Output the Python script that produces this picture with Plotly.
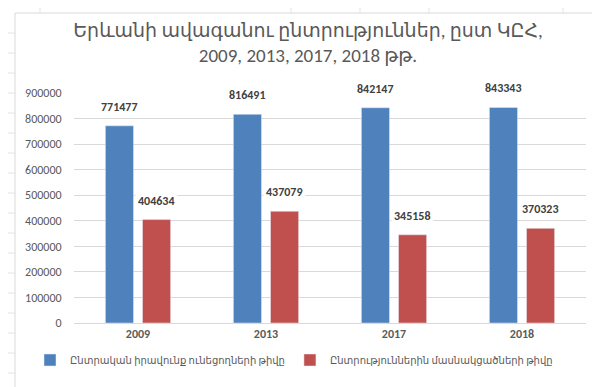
import plotly.graph_objects as go

years = ["2009", "2013", "2017", "2018"]
registered = [771477, 816491, 842147, 843343]
participated = [404634, 437079, 345158, 370323]
series_names = ["Ընտրական իրավունք ունեցողների թիվը", "Ընտրություններին մասնակցածների թիվը"]
title_text = "Երևանի ավագանու ընտրություններ, ըստ ԿԸՀ,<br>2009, 2013, 2017, 2018 թթ."

BLUE = "#4F81BD"
RED = "#C0504D"
FONT = "Calibri, Carlito, 'Liberation Sans', 'DejaVu Sans', sans-serif"

W, H = 600, 387
L, R, T, B = 66, 22, 85, 72
PW, PH = W - L - R, H - T - B


def px(x):
    return (x - L) / PW


def py(y):
    return (H - B - y) / PH


fig = go.Figure()
fig.add_trace(go.Bar(x=years, y=registered, name=series_names[0], marker_color=BLUE))
fig.add_trace(go.Bar(x=years, y=participated, name=series_names[1], marker_color=RED))

for vals, shift in ((registered, -18.5), (participated, 18.5)):
    for i, v in enumerate(vals):
        fig.add_annotation(x=i, y=v, xshift=shift, yshift=9, text=f"<b>{v}</b>",
                           showarrow=False, yanchor="bottom", bgcolor="white",
                           font=dict(family=FONT, size=12, color="#404040"),
                           borderpad=2)

# spreadsheet cell lines around the chart area
cell = dict(color="#e3e3e3", width=1)
for cx in (32, 283, 352, 421, 555):
    fig.add_shape(type="line", xref="paper", yref="paper", x0=px(cx), x1=px(cx),
                  y0=py(0), y1=py(5), line=cell, layer="below")
    fig.add_shape(type="line", xref="paper", yref="paper", x0=px(cx), x1=px(cx),
                  y0=py(380), y1=py(387), line=cell, layer="below")
for ry in range(25, 380, 20):
    fig.add_shape(type="line", xref="paper", yref="paper", x0=px(0), x1=px(7),
                  y0=py(ry), y1=py(ry), line=cell, layer="below")
    fig.add_shape(type="line", xref="paper", yref="paper", x0=px(592), x1=px(600),
                  y0=py(ry), y1=py(ry), line=cell, layer="below")

# chart area border
fig.add_shape(type="rect", xref="paper", yref="paper",
              x0=px(7), x1=px(592), y0=py(380), y1=py(5),
              line=dict(color="#d9d9d9", width=1), fillcolor="rgba(0,0,0,0)", layer="below")

fig.update_layout(
    width=W, height=H,
    margin=dict(l=L, r=R, t=T, b=B),
    paper_bgcolor="white", plot_bgcolor="white",
    barmode="group", bargap=0.42, bargroupgap=0.243,
    title=dict(text=title_text, x=0.5, xanchor="center", y=0.925, yanchor="top",
               font=dict(family=FONT, size=19, color="#595959")),
    font=dict(family=FONT, size=12, color="#595959"),
    showlegend=True,
    legend=dict(orientation="h", x=px(22), xanchor="left", y=py(352), yanchor="middle",
                font=dict(family=FONT, size=10, color="#595959"),
                itemwidth=30, tracegroupgap=0),
    xaxis=dict(type="category", range=[-0.5, 3.5], showgrid=False, showline=True,
               linecolor="#d9d9d9", ticks="",
               tickfont=dict(family=FONT, size=12, color="#595959", weight="bold")),
    yaxis=dict(range=[0, 900000], dtick=100000, tickformat="d", showgrid=True,
               gridcolor="#d9d9d9", zeroline=False, showline=False,
               ticks="outside", ticklen=9, tickcolor="rgba(0,0,0,0)",
               tickfont=dict(family=FONT, size=12, color="#595959")),
)

fig.write_html("out.html")
